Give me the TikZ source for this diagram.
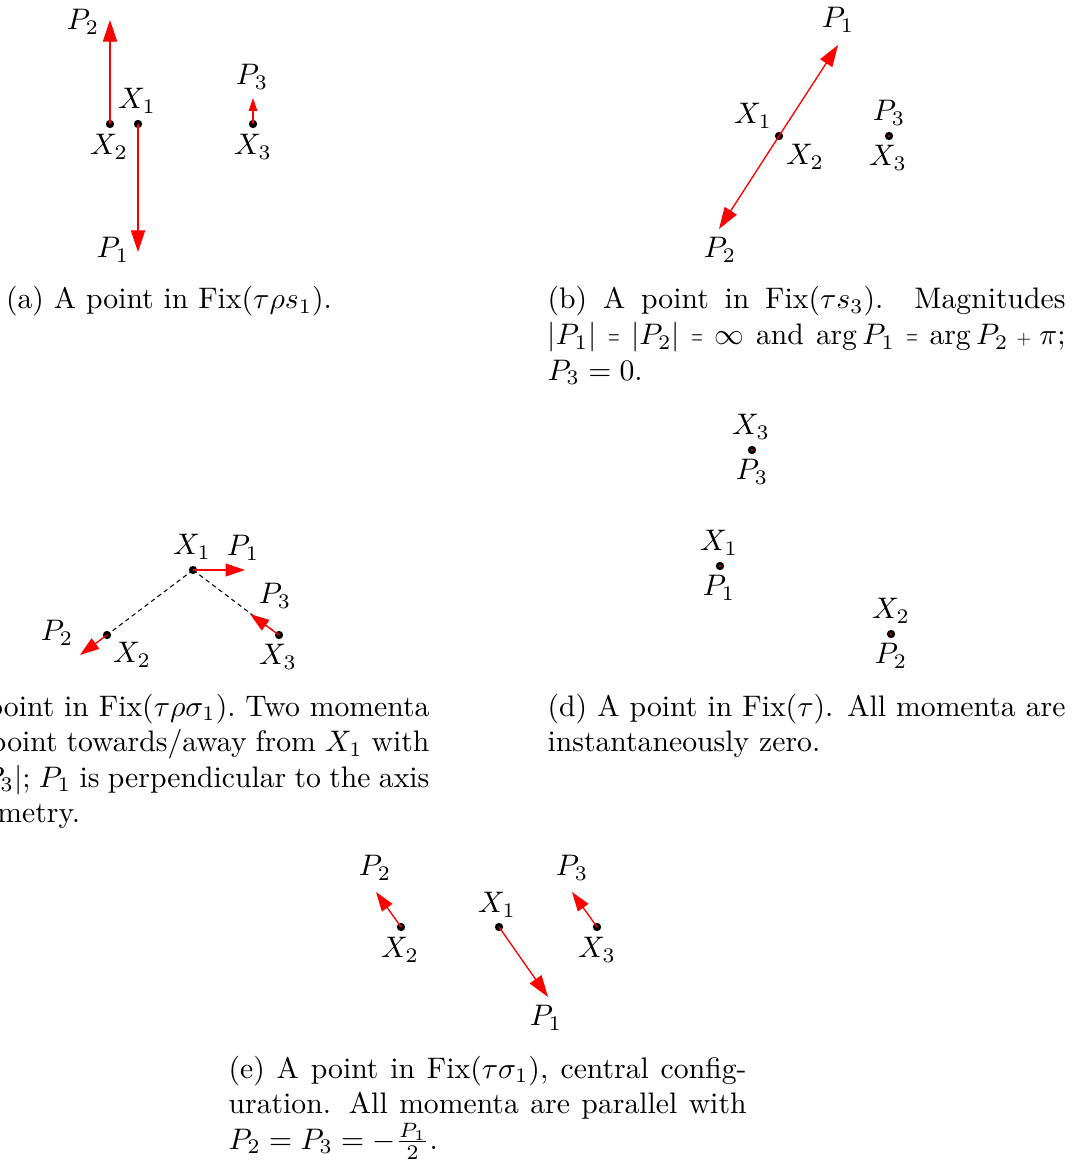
\documentclass[tikz,border=0pt]{standalone}
\usepackage{graphicx}
\usetikzlibrary{arrows.meta}
\newcommand{\capw}{174.4pt}
\newcommand{\capjust}[1]{\makebox[\capw][s]{\spaceskip=0pt \xspaceskip=0pt #1}}
\newcommand{\capright}[2]{\makebox[\capw][r]{\spaceskip=#1 \xspaceskip=#1 #2}}
\newcommand{\capleft}[1]{\makebox[\capw][l]{#1}}
\newcommand{\smalleq}{\mathrel{\scalebox{0.5}[0.9]{$=$}}}
\newcommand{\smallplus}{\mathbin{\scalebox{0.65}{$+$}}}
\begin{document}
\begin{tikzpicture}[x=0.33670pt,y=-0.33670pt,
  ptdot/.style={circle,fill=black,inner sep=0pt,minimum size=2.8pt},
  zerodot/.style={circle,fill=red,inner sep=0pt,minimum size=0.8pt},
  lbl/.style={inner sep=0pt},
  mom/.style={draw=red,line width=0.45pt,-{Triangle[length=7.3pt,width=4.8pt]},fill=red},
  momshort/.style={draw=red,line width=0.45pt,-{Triangle[length=6.5pt,width=4.3pt]},fill=red},
  momtiny/.style={draw=red,line width=0.45pt,-{Triangle[length=4.3pt,width=2.8pt]},fill=red},
  symaxis/.style={draw=black,line width=0.35pt,dash pattern=on 1.5pt off 1.2pt},
  capbox/.style={inner sep=0pt,text width=\capw,align=justify}
]
\fill[white] (0,0) rectangle (1075,1162);
\useasboundingbox (0,0) rectangle (1075,1162);
\clip (0,0) rectangle (1075,1162);

% ---------- (a)
\node[ptdot] (aX1) at (138,124) {};
\node[ptdot] (aX2) at (110,124) {};
\node[ptdot] (aX3) at (253,124) {};
\coordinate (aP1) at (138,252);
\coordinate (aP2) at (110,20);
\coordinate (aP3) at (253,98);
\draw[mom] (aX1.center) -- (aP1);
\draw[mom] (aX2.center) -- (aP2);
\draw[momtiny] (aX3.center) -- (aP3);
\node[lbl] (aLP2) at (83,22) {$P_2$};
\node[lbl] (aLX1) at (137,101) {$X_1$};
\node[lbl] (aLX2) at (109,147) {$X_2$};
\node[lbl] (aLP1) at (113,250) {$P_1$};
\node[lbl] (aLP3) at (252,77) {$P_3$};
\node[lbl] (aLX3) at (253,147) {$X_3$};
\node[inner sep=0pt,anchor=base] (capa) at (169,309) {(a) A point in Fix$(\tau\rho s_1)$.};

% ---------- (b)
\node[ptdot] (bX1) at (779,136) {};
\node[ptdot] (bX3) at (889,136) {};
\coordinate (bP1) at (838,45);
\coordinate (bP2) at (719,229);
\draw[mom] (bX1.center) -- (bP1);
\draw[mom] (bX1.center) -- (bP2);
\node[zerodot] (bZ3) at (bX3) {};
\node[lbl] (bLP1) at (838,20) {$P_1$};
\node[lbl] (bLX1) at (753,116) {$X_1$};
\node[lbl] (bLX2) at (805,157) {$X_2$};
\node[lbl] (bLP3) at (889,113) {$P_3$};
\node[lbl] (bLX3) at (888,158) {$X_3$};
\node[lbl] (bLP2) at (720,250) {$P_2$};
\node[capbox,anchor=base west] (capb) at (547,309) {\capjust{(b) A point in Fix$(\tau s_3)$. Magnitudes}\\
\capjust{$|P_1|\smalleq|P_2|\smalleq\infty$ and $\arg P_1\smalleq\arg P_2\smallplus\pi$;}\\
$P_3=0$.};

% ---------- (c)
\node[ptdot] (cX1) at (193,570) {};
\node[ptdot] (cX2) at (107,635) {};
\node[ptdot] (cX3) at (279,635) {};
\draw[symaxis] (cX1.center) -- (cX2.center);
\draw[symaxis] (cX1.center) -- (cX3.center);
\coordinate (cP1) at (245,570);
\coordinate (cP2) at (80,655);
\coordinate (cP3) at (250,614);
\draw[momshort] (cX1.center) -- (cP1);
\draw[momshort] (cX2.center) -- (cP2);
\draw[momshort] (cX3.center) -- (cP3);
\node[lbl] (cLX1) at (192,547) {$X_1$};
\node[lbl] (cLP1) at (243,548) {$P_1$};
\node[lbl] (cLP3) at (275,596) {$P_3$};
\node[lbl] (cLP2) at (57,633) {$P_2$};
\node[lbl] (cLX2) at (132,655) {$X_2$};
\node[lbl] (cLX3) at (278,657) {$X_3$};
\node[capbox,anchor=base east] (capc) at (430,716) {\capright{0.3333em}{(c) A point in Fix$(\tau\rho\sigma_1)$. Two momenta}\\
\capright{0.3em}{point towards/away from $X_1$ with}\\
\capright{0.28em}{$|P_2|=|P_3|$; $P_1$ is perpendicular to the axis}\\
\capleft{of symmetry.}};

% ---------- (d)
\node[ptdot] (dX3) at (752,450) {};
\node[ptdot] (dX1) at (720,566) {};
\node[ptdot] (dX2) at (891,634) {};
\node[zerodot] (dZ3) at (dX3) {};
\node[zerodot] (dZ1) at (dX1) {};
\node[zerodot] (dZ2) at (dX2) {};
\node[lbl] (dLX3) at (751,427) {$X_3$};
\node[lbl] (dLP3) at (752,472) {$P_3$};
\node[lbl] (dLX1) at (719,543) {$X_1$};
\node[lbl] (dLP1) at (719,588) {$P_1$};
\node[lbl] (dLX2) at (891,611) {$X_2$};
\node[lbl] (dLP2) at (891,656) {$P_2$};
\node[capbox,anchor=base west] (capd) at (547,716) {\capjust{(d) A point in Fix$(\tau)$. All momenta are}\\
instantaneously zero.};

% ---------- (e)
\node[ptdot] (eX2) at (401,927) {};
\node[ptdot] (eX1) at (499,927) {};
\node[ptdot] (eX3) at (597,927) {};
\coordinate (eP1) at (548,997);
\coordinate (eP2) at (376,892);
\coordinate (eP3) at (572,892);
\draw[mom] (eX1.center) -- (eP1);
\draw[momshort] (eX2.center) -- (eP2);
\draw[momshort] (eX3.center) -- (eP3);
\node[lbl] (eLP2) at (375,868) {$P_2$};
\node[lbl] (eLX2) at (400,950) {$X_2$};
\node[lbl] (eLX1) at (497,905) {$X_1$};
\node[lbl] (eLP1) at (546,1018) {$P_1$};
\node[lbl] (eLP3) at (572,868) {$P_3$};
\node[lbl] (eLX3) at (597,950) {$X_3$};
\node[capbox,anchor=base west] (cape) at (228,1078) {\capjust{(e) A point in Fix$(\tau\sigma_1)$, central config-}\\
\capjust{uration. All momenta are parallel with}\\
$P_2=P_3=-\frac{P_1}{2}$.};
\end{tikzpicture}
\end{document}
